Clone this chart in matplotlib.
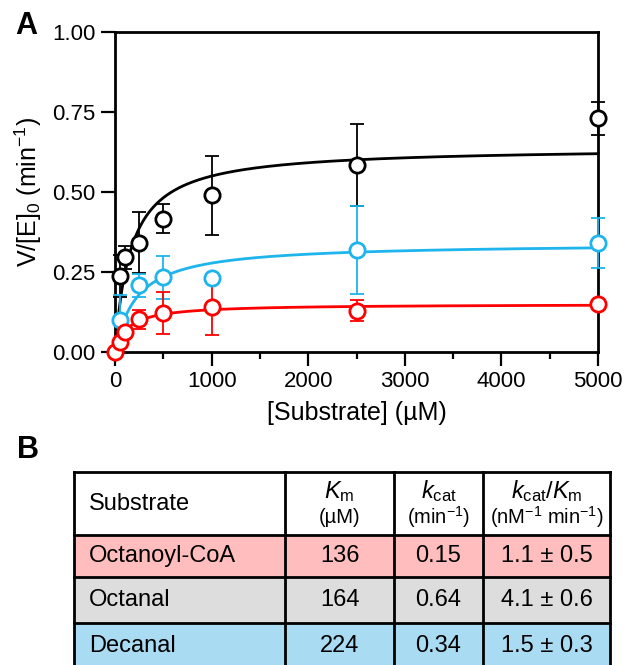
import numpy as np
import matplotlib
matplotlib.use("Agg")
import matplotlib.pyplot as plt
from matplotlib.patches import Rectangle

plt.rcParams['font.family'] = ['Liberation Sans', 'DejaVu Sans']
plt.rcParams['mathtext.fontset'] = 'custom'
plt.rcParams['mathtext.rm'] = 'Liberation Sans'
plt.rcParams['mathtext.it'] = 'Liberation Sans:italic'
plt.rcParams['mathtext.bf'] = 'Liberation Sans:bold'

# ---- data ----
substrates = ["Octanoyl-CoA", "Octanal", "Decanal"]
km_vals = [136, 164, 224]
kcat_vals = [0.15, 0.64, 0.34]
eff_labels = ["1.1 ± 0.5", "4.1 ± 0.6", "1.5 ± 0.3"]
row_colors = ["#FFBDBD", "#DDDDDD", "#A9DCF2"]
series_colors = ["#FF0000", "#000000", "#1EB4EC"]

x_octanal = [50, 100, 250, 500, 1000, 2500, 5000]
y_octanal = [0.238, 0.296, 0.342, 0.417, 0.490, 0.584, 0.730]
e_octanal = [0.065, 0.036, 0.096, 0.046, 0.123, 0.128, 0.052]

x_decanal = [50, 250, 500, 1000, 2500, 5000]
y_decanal = [0.100, 0.209, 0.233, 0.230, 0.319, 0.340]
e_decanal = [0.078, 0.036, 0.067, 0.012, 0.137, 0.078]

x_octcoa = [0, 50, 100, 250, 500, 1000, 2500, 5000]
y_octcoa = [0.000, 0.030, 0.063, 0.102, 0.121, 0.140, 0.129, 0.149]
e_octcoa = [0.0, 0.005, 0.008, 0.029, 0.066, 0.086, 0.033, 0.004]

xticks = [0, 1000, 2000, 3000, 4000, 5000]
yticks = [0.00, 0.25, 0.50, 0.75, 1.00]

W, H = 628, 665
fig = plt.figure(figsize=(W / 100, H / 100), dpi=100)

# plot axes in pixel layout
L, R, T, B = 115, 598, 32, 352
ax = fig.add_axes([L / W, 1 - B / H, (R - L) / W, (B - T) / H])
ax.set_xlim(0, 5000)
ax.set_ylim(0, 1)
for s in ax.spines.values():
    s.set_linewidth(2.0)
ax.set_xticks(xticks)
ax.set_xticklabels([str(v) for v in xticks])
ax.set_xticks(np.arange(500, 5000, 1000), minor=True)
ax.set_yticks(yticks)
ax.set_yticklabels([f"{v:.2f}" for v in yticks])
ax.tick_params(which='major', direction='out', length=10, width=1.6, labelsize=16, pad=4)
ax.tick_params(which='minor', direction='out', length=5, width=1.6)
ax.tick_params(axis='y', which='minor', left=False)

xs = np.linspace(0, 5000, 1000)
series = [
    (x_octanal, y_octanal, e_octanal, 1),
    (x_decanal, y_decanal, e_decanal, 2),
    (x_octcoa, y_octcoa, e_octcoa, 0),
]
for xv, yv, ev, idx in series:
    c = series_colors[idx]
    km, kc = km_vals[idx], kcat_vals[idx]
    ax.plot(xs, kc * xs / (km + xs), color=c, lw=2.0, zorder=3, clip_on=False)
    ax.errorbar(xv, yv, yerr=ev, fmt='none', ecolor=c, elinewidth=1.3,
                capsize=5, capthick=1.3, zorder=4, clip_on=False)
    ax.plot(xv, yv, 'o', ms=11, mfc='white', mec=c, mew=2.0, zorder=5, clip_on=False)

ax.set_xlabel("[Substrate] (µM)", fontsize=18, labelpad=6)
ax.set_ylabel("V/[E]$_0$ (min$^{-1}$)", fontsize=18, labelpad=6)

fig.text(15 / W, 1 - 34 / H, "A", fontsize=22, fontweight='bold', ha='left', va='baseline')
fig.text(17 / W, 1 - 458 / H, "B", fontsize=22, fontweight='bold', ha='left', va='baseline')

# ---- table ----
tax = fig.add_axes([0, 0, 1, 1])
tax.set_xlim(0, W)
tax.set_ylim(H, 0)
tax.axis('off')

cols = [74, 285, 394, 483, 610]
rows = [472, 535, 577, 623, 669]
fills = ["white"] + row_colors
for r in range(4):
    tax.add_patch(Rectangle((cols[0], rows[r]), cols[-1] - cols[0], rows[r + 1] - rows[r],
                            facecolor=fills[r], edgecolor='none', zorder=1))
lw = 2.0
for yv in rows:
    tax.plot([cols[0], cols[-1]], [yv, yv], color='black', lw=lw, zorder=2, solid_capstyle='projecting')
for xv in cols:
    tax.plot([xv, xv], [rows[0], rows[-1]], color='black', lw=lw, zorder=2, solid_capstyle='projecting')

fs = 17
fs2 = 14.5
hc = (rows[0] + rows[1]) / 2
tax.text(cols[0] + 15, hc, "Substrate", fontsize=fs, ha='left', va='center')
ccen = [(cols[i] + cols[i + 1]) / 2 for i in range(4)]
h1 = hc - 12
h2 = hc + 14
tax.text(ccen[1], h1, r"$\mathit{K}_{\mathrm{m}}$", fontsize=fs, ha='center', va='center')
tax.text(ccen[1], h2, "(µM)", fontsize=fs2, ha='center', va='center')
tax.text(ccen[2], h1, r"$\mathit{k}_{\mathrm{cat}}$", fontsize=fs, ha='center', va='center')
tax.text(ccen[2], h2, r"(min$^{\mathrm{-1}}$)", fontsize=fs2, ha='center', va='center')
tax.text(ccen[3], h1, r"$\mathit{k}_{\mathrm{cat}}/\mathit{K}_{\mathrm{m}}$", fontsize=fs, ha='center', va='center')
tax.text(ccen[3], h2, r"(nM$^{\mathrm{-1}}$ min$^{\mathrm{-1}}$)", fontsize=fs2, ha='center', va='center')

for i in range(3):
    yc = (rows[i + 1] + rows[i + 2]) / 2
    tax.text(cols[0] + 15, yc, substrates[i], fontsize=fs, ha='left', va='center')
    tax.text(ccen[1], yc, str(km_vals[i]), fontsize=fs, ha='center', va='center')
    tax.text(ccen[2], yc, f"{kcat_vals[i]:.2f}", fontsize=fs, ha='center', va='center')
    tax.text(ccen[3], yc, eff_labels[i], fontsize=fs, ha='center', va='center')

fig.savefig("out.png", dpi=100)
